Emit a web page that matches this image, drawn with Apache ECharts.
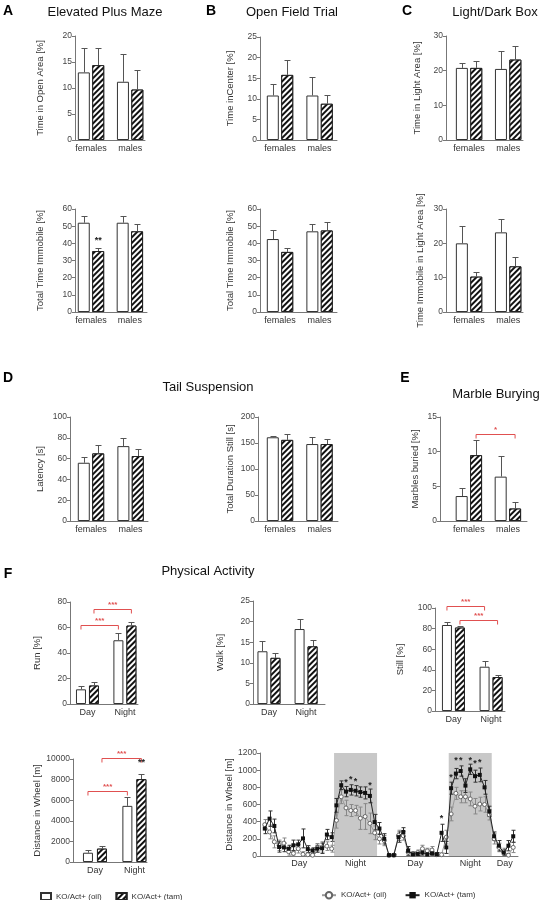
<!DOCTYPE html>
<html><head><meta charset="utf-8">
<script src="https://cdn.jsdelivr.net/npm/echarts@6/dist/echarts.min.js"></script>
<style>html,body{margin:0;padding:0;background:#fff}#c{width:545px;height:900px}</style>
</head><body><div id="c"></div>
<script>
const FONT = '"Liberation Sans", Arial, Helvetica, sans-serif';
const RED = '#e05050';

// ---------- categories ----------
const sexCats = ['females', 'males'];
const periodCats = ['Day', 'Night'];

// ---------- A: Elevated Plus Maze ----------
const epmOpenOil = [13.0, 11.2];
const epmOpenOilErr = [4.7, 5.4];
const epmOpenTam = [14.4, 9.7];
const epmOpenTamErr = [3.3, 3.8];
const epmImmOil = [52, 52];
const epmImmOilErr = [4.2, 4.0];
const epmImmTam = [35.5, 47];
const epmImmTamErr = [1.5, 4.5];

// ---------- B: Open Field Trial ----------
const ofCenterOil = [10.8, 10.8];
const ofCenterOilErr = [2.7, 4.4];
const ofCenterTam = [15.8, 8.8];
const ofCenterTamErr = [3.7, 2.2];
const ofImmOil = [42.5, 47];
const ofImmOilErr = [5.5, 4.2];
const ofImmTam = [35, 47.5];
const ofImmTamErr = [2.2, 5.2];

// ---------- C: Light/Dark Box ----------
const ldLightOil = [20.8, 20.5];
const ldLightOilErr = [1.5, 5.2];
const ldLightTam = [20.8, 23.2];
const ldLightTamErr = [1.9, 3.8];
const ldImmOil = [20, 23.2];
const ldImmOilErr = [5, 4];
const ldImmTam = [10.3, 13.3];
const ldImmTamErr = [1.4, 2.7];

// ---------- D: Tail Suspension ----------
const tsLatOil = [56, 72];
const tsLatOilErr = [5.5, 8];
const tsLatTam = [65, 62.5];
const tsLatTamErr = [8, 6.5];
const tsStillOil = [161, 148];
const tsStillOilErr = [3, 14];
const tsStillTam = [156, 148];
const tsStillTamErr = [11, 9];

// ---------- E: Marble Burying ----------
const mbOil = [3.6, 6.4];
const mbOilErr = [1.1, 3.0];
const mbTam = [9.5, 1.8];
const mbTamErr = [2.2, 1.0];

// ---------- F: Physical Activity ----------
const runOil = [11.5, 50];
const runOilErr = [3, 6];
const runTam = [14.5, 61.5];
const runTamErr = [2.5, 2.5];
const walkOil = [12.8, 18.2];
const walkOilErr = [2.4, 2.4];
const walkTam = [11.2, 14];
const walkTamErr = [1.2, 1.6];
const stillOil = [83.5, 43];
const stillOilErr = [3, 5.5];
const stillTam = [81, 33];
const stillTamErr = [2, 2];
const wheelOil = [900, 5450];
const wheelOilErr = [300, 850];
const wheelTam = [1300, 8050];
const wheelTamErr = [250, 500];

// significance marks (a/b = [category, 0 oil | 1 tam])
const mbBrackets = [{a: [0, 1], b: [1, 1], y: 12.6, label: '*'}];
const runBrackets = [{a: [0, 0], b: [1, 0], y: 62, label: '***'}, {a: [0, 1], b: [1, 1], y: 74.5, label: '***'}];
const stillBrackets = [{a: [0, 0], b: [1, 0], y: 102, label: '***'}, {a: [0, 1], b: [1, 1], y: 88, label: '***'}];
const wheelBrackets = [{a: [0, 0], b: [1, 0], y: 6900, label: '***'}, {a: [0, 1], b: [1, 1], y: 10100, label: '***'}];
const epmImmStars = [{x: 0, side: 1, y: 43, label: '**'}];
const wheelStars = [{x: 1, side: 1, y: 9850, label: '**'}];

// ---------- F: wheel running time course ----------
const wheelBins = [0,1,2,3,4,5,6,7,8,9,10,11,12,13,14,15,16,17,18,19,20,21,22,23,24,25,26,27,28,29,30,31,32,33,34,35,36,37,38,39,40,41,42,43,44,45,46,47,48,49,50,51,52];
const wheelTimeTam = [320, 435, 350, 105, 100, 85, 125, 135, 205, 80, 65, 85, 90, 250, 220,
  590, 825, 750, 770, 760, 745, 735, 700, 395,
  320, 200, 10, 10, 220, 280, 60, 20, 25, 40, 20, 30, 20, 270, 100,
  790, 960, 990, 820, 1010, 930, 945, 800, 520,
  230, 120, 40, 120, 230];
const wheelTimeTamErr = [60, 90, 80, 60, 50, 40, 60, 50, 110, 40, 30, 40, 60, 60, 50,
  80, 50, 60, 60, 60, 60, 70, 80, 90,
  70, 60, 10, 10, 60, 50, 50, 15, 20, 30, 30, 20, 20, 100, 70,
  70, 60, 60, 80, 60, 70, 80, 80, 60,
  50, 60, 30, 60, 70];
const wheelTimeOil = [365, 280, 165, 125, 150, 50, 30, 85, 20, 15, 10, 95, 105, 115, 85,
  415, 690, 560, 530, 530, 440, 460, 380, 270,
  200, 180, 8, 10, 240, 235, 45, 30, 40, 85, 60, 70, 15, 15, 220,
  490, 730, 690, 690, 665, 580, 605, 600, 480,
  200, 100, 50, 10, 100];
const wheelTimeOilErr = [60, 80, 70, 60, 60, 40, 30, 50, 30, 20, 20, 50, 60, 50, 40,
  90, 80, 90, 70, 60, 130, 150, 120, 80,
  60, 60, 10, 10, 60, 50, 40, 20, 30, 40, 30, 40, 20, 20, 80,
  80, 70, 70, 70, 80, 90, 80, 90, 60,
  60, 50, 40, 20, 60];
const wheelTimeStars = [[17, 880], [18, 915], [19, 890], [22, 850], [37, 460], [39, 940], [40, 1135], [41, 1140], [43, 1140], [44, 1095], [45, 1110]];
const phaseLabels = ['Day', 'Night', 'Day', 'Night', 'Day'];
const phaseBounds = [[-0.1, 14.5], [14.5, 23.5], [23.5, 39.5], [38.5, 47.5], [47.5, 53]];

// ---------- panel table ----------
const panels = [
  {cats: sexCats, oil: epmOpenOil, oilErr: epmOpenOilErr, tam: epmOpenTam, tamErr: epmOpenTamErr, yMax: 20, yInt: 5, name: 'Time in Open Area [%]', rect: [75, 36, 70, 104], xr: [-0.41, 1.38], nameGap: 30},
  {cats: sexCats, oil: epmImmOil, oilErr: epmImmOilErr, tam: epmImmTam, tamErr: epmImmTamErr, yMax: 60, yInt: 10, name: 'Total Time Immobile [%]', rect: [75, 209, 72, 103], xr: [-0.41, 1.44], nameGap: 30, stars: epmImmStars},
  {cats: sexCats, oil: ofCenterOil, oilErr: ofCenterOilErr, tam: ofCenterTam, tamErr: ofCenterTamErr, yMax: 25, yInt: 5, name: 'Time inCenter [%]', rect: [260, 37, 77, 103], xr: [-0.506, 1.44], nameGap: 25},
  {cats: sexCats, oil: ofImmOil, oilErr: ofImmOilErr, tam: ofImmTam, tamErr: ofImmTamErr, yMax: 60, yInt: 10, name: 'Total Time Immobile [%]', rect: [260, 209, 77, 103], xr: [-0.506, 1.44], nameGap: 25},
  {cats: sexCats, oil: ldLightOil, oilErr: ldLightOilErr, tam: ldLightTam, tamErr: ldLightTamErr, yMax: 30, yInt: 10, name: 'Time in Light Area [%]', rect: [446, 36, 77, 104], xr: [-0.59, 1.38], nameGap: 24},
  {cats: sexCats, oil: ldImmOil, oilErr: ldImmOilErr, tam: ldImmTam, tamErr: ldImmTamErr, yMax: 30, yInt: 10, name: 'Time Immobile in Light Area [%]', rect: [446, 209, 77, 103], xr: [-0.59, 1.38], nameGap: 21},
  {cats: sexCats, oil: tsLatOil, oilErr: tsLatOilErr, tam: tsLatTam, tamErr: tsLatTamErr, yMax: 100, yInt: 20, name: 'Latency [s]', rect: [70, 417, 78, 104], xr: [-0.53, 1.44], nameGap: 25},
  {cats: sexCats, oil: tsStillOil, oilErr: tsStillOilErr, tam: tsStillTam, tamErr: tsStillTamErr, yMax: 200, yInt: 50, name: 'Total Duration Still [s]', rect: [258, 417, 80, 104], xr: [-0.557, 1.47], nameGap: 23},
  {cats: sexCats, oil: mbOil, oilErr: mbOilErr, tam: mbTam, tamErr: mbTamErr, yMax: 15, yInt: 5, name: 'Marbles buried [%]', rect: [440, 417, 87, 104], xr: [-0.74, 1.49], nameGap: 20, brackets: mbBrackets},
  {cats: periodCats, oil: runOil, oilErr: runOilErr, tam: runTam, tamErr: runTamErr, yMax: 80, yInt: 20, name: 'Run [%]', rect: [70, 602, 68, 102], xr: [-0.467, 1.35], nameGap: 28, bw: 10, gapR: 0.3, brackets: runBrackets},
  {cats: periodCats, oil: walkOil, oilErr: walkOilErr, tam: walkTam, tamErr: walkTamErr, yMax: 25, yInt: 5, name: 'Walk [%]', rect: [253, 601, 72, 103], xr: [-0.43, 1.51], nameGap: 28, bw: 10, gapR: 0.3},
  {cats: periodCats, oil: stillOil, oilErr: stillOilErr, tam: stillTam, tamErr: stillTamErr, yMax: 100, yInt: 20, name: 'Still [%]', rect: [435, 608, 70, 103], xr: [-0.49, 1.37], nameGap: 30, bw: 10, gapR: 0.3, brackets: stillBrackets},
  {cats: periodCats, oil: wheelOil, oilErr: wheelOilErr, tam: wheelTam, tamErr: wheelTamErr, yMax: 10000, yInt: 2000, name: 'Distance in Wheel [m]', rect: [73, 759, 74, 103], xr: [-0.557, 1.32], nameGap: 26, bw: 10, gapR: 0.4, brackets: wheelBrackets, stars: wheelStars}
];

const AX = '#777';
const decal = {symbol: 'rect', symbolSize: 1, dashArrayX: [1, 0], dashArrayY: [2, 1.5], rotation: -Math.PI / 4, color: '#111', backgroundColor: '#fff'};

function barErrItem(off, color) {
  return function (params, api) {
    const i = api.value(0), m = api.value(1), e = api.value(2);
    const p0 = api.coord([i, m]), p1 = api.coord([i, m + e]);
    const x = Math.round(p0[0] + off) + 0.5;
    const yt = Math.round(p1[1]) + 0.5;
    return {type: 'group', children: [
      {type: 'line', shape: {x1: x, y1: p0[1], x2: x, y2: yt}, style: {stroke: color, lineWidth: 1}},
      {type: 'line', shape: {x1: x - 3, y1: yt, x2: x + 3, y2: yt}, style: {stroke: color, lineWidth: 1}}
    ]};
  };
}
function bracketItem(list, off) {
  return function (params, api) {
    const b = list[params.dataIndex];
    const y = Math.round(api.coord([0, b.y])[1]) + 0.5;
    const xa = api.coord([b.a[0], 0])[0] + (b.a[1] ? off : -off);
    const xb = api.coord([b.b[0], 0])[0] + (b.b[1] ? off : -off);
    return {type: 'group', children: [
      {type: 'polyline', shape: {points: [[xa, y + 4], [xa, y], [xb, y], [xb, y + 4]]}, style: {stroke: RED, lineWidth: 1, fill: null}},
      {type: 'text', style: {x: (xa + xb) / 2, y: y - 1, text: b.label, fill: RED, font: 'bold 8px ' + FONT, textAlign: 'center', textVerticalAlign: 'bottom'}}
    ]};
  };
}
function starItem(list, off) {
  return function (params, api) {
    const s = list[params.dataIndex];
    const p = api.coord([s.x, s.y]);
    return {type: 'text', style: {x: p[0] + (s.side ? off : -off), y: p[1] + 2, text: s.label, fill: '#222', font: 'bold 9px ' + FONT, textAlign: 'center', textVerticalAlign: 'middle'}};
  };
}

const option = {
  animation: false,
  textStyle: {fontFamily: FONT},
  grid: [], xAxis: [], yAxis: [], series: [], graphic: [], legend: []
};

function yAxisOpt(k, max, interval, name, gap) {
  return {gridIndex: k, type: 'value', min: 0, max: max, interval: interval, name: name, nameLocation: 'middle', nameGap: gap,
    nameTextStyle: {fontSize: 9.5, color: '#333', fontFamily: FONT},
    axisLine: {show: true, onZero: false, lineStyle: {color: AX}},
    axisTick: {show: true, length: 3, lineStyle: {color: AX}},
    axisLabel: {fontSize: 8.5, color: '#444', margin: 3, fontFamily: FONT, formatter: function (v) { return String(v); }},
    splitLine: {show: false}};
}

panels.forEach(function (p, k) {
  const bw = p.bw || 12, gapR = p.gapR || 0.2;
  const off = bw * (1 + gapR) / 2;
  option.grid.push({left: p.rect[0], top: p.rect[1], width: p.rect[2], height: p.rect[3]});
  option.xAxis.push({gridIndex: k, type: 'value', min: p.xr[0], max: p.xr[1], splitLine: {show: false}, axisTick: {show: false},
    axisLine: {onZero: false, lineStyle: {color: AX}},
    axisLabel: {customValues: [0, 1], formatter: function (v) { return p.cats[Math.round(v)]; }, fontSize: 9, color: '#333', margin: 4, fontFamily: FONT}});
  option.yAxis.push(yAxisOpt(k, p.yMax, p.yInt, p.name, p.nameGap));
  option.series.push({type: 'bar', name: 'KO/Act+ (oil)', xAxisIndex: k, yAxisIndex: k, barWidth: bw, barGap: (gapR * 100) + '%',
    data: p.oil.map(function (v, i) { return [i, v]; }), itemStyle: {color: '#fff', borderColor: '#333', borderWidth: 1}, silent: true});
  option.series.push({type: 'bar', name: 'KO/Act+ (tam)', xAxisIndex: k, yAxisIndex: k, barWidth: bw, barGap: (gapR * 100) + '%',
    data: p.tam.map(function (v, i) { return [i, v]; }), itemStyle: {color: '#fff', borderColor: '#222', borderWidth: 1, decal: decal}, silent: true});
  option.series.push({type: 'custom', xAxisIndex: k, yAxisIndex: k, silent: true, z: 3,
    data: p.oil.map(function (v, i) { return [i, v, p.oilErr[i]]; }), renderItem: barErrItem(-off, '#555')});
  option.series.push({type: 'custom', xAxisIndex: k, yAxisIndex: k, silent: true, z: 3,
    data: p.tam.map(function (v, i) { return [i, v, p.tamErr[i]]; }), renderItem: barErrItem(off, '#555')});
  if (p.brackets) {
    option.series.push({type: 'custom', xAxisIndex: k, yAxisIndex: k, silent: true, clip: false, z: 4,
      data: p.brackets.map(function (b) { return [b.a[0], b.y]; }), renderItem: bracketItem(p.brackets, off)});
  }
  if (p.stars) {
    option.series.push({type: 'custom', xAxisIndex: k, yAxisIndex: k, silent: true, clip: false, z: 4,
      data: p.stars.map(function (s) { return [s.x, s.y]; }), renderItem: starItem(p.stars, off)});
  }
});

// time-course panel
const T = panels.length;
option.grid.push({left: 260, top: 753, width: 258, height: 103});
option.xAxis.push({gridIndex: T, type: 'value', min: -1, max: 53, splitLine: {show: false}, axisTick: {show: false}, axisLabel: {show: false},
  axisLine: {onZero: false, lineStyle: {color: AX}}});
option.yAxis.push(yAxisOpt(T, 1200, 200, 'Distance in Wheel [m]', 25));

function tsErrItem(color) {
  return function (params, api) {
    const x = api.value(0), m = api.value(1), e = api.value(2);
    const pt = api.coord([x, m + e]), pb = api.coord([x, Math.max(0, m - e)]);
    const xx = Math.round(pt[0]) + 0.5;
    return {type: 'group', children: [
      {type: 'line', shape: {x1: xx, y1: pt[1], x2: xx, y2: pb[1]}, style: {stroke: color, lineWidth: 1}},
      {type: 'line', shape: {x1: xx - 2, y1: pt[1], x2: xx + 2, y2: pt[1]}, style: {stroke: color, lineWidth: 1}},
      {type: 'line', shape: {x1: xx - 2, y1: pb[1], x2: xx + 2, y2: pb[1]}, style: {stroke: color, lineWidth: 1}}
    ]};
  };
}

const phaseAreas = phaseLabels.map(function (lab, i) {
  const night = lab === 'Night';
  return [{xAxis: phaseBounds[i][0], name: lab, itemStyle: {color: night ? '#c8c8c8' : 'rgba(0,0,0,0)'}}, {xAxis: phaseBounds[i][1]}];
});

option.series.push({type: 'custom', xAxisIndex: T, yAxisIndex: T, silent: true, z: 2,
  data: wheelBins.map(function (x, i) { return [x, wheelTimeOil[i], wheelTimeOilErr[i]]; }), renderItem: tsErrItem('#888'),
  markArea: {silent: true, z: 1, label: {show: true, position: 'bottom', distance: 3, fontSize: 9, color: '#333', fontFamily: FONT}, data: phaseAreas}});
option.series.push({type: 'custom', xAxisIndex: T, yAxisIndex: T, silent: true, z: 2,
  data: wheelBins.map(function (x, i) { return [x, wheelTimeTam[i], wheelTimeTamErr[i]]; }), renderItem: tsErrItem('#333')});
option.series.push({type: 'line', name: 'oilLine', xAxisIndex: T, yAxisIndex: T, silent: true, z: 3,
  data: wheelBins.map(function (x, i) { return [x, wheelTimeOil[i]]; }),
  symbol: 'circle', symbolSize: 4, showAllSymbol: true,
  lineStyle: {color: '#999', width: 1}, itemStyle: {color: '#fff', borderColor: '#666', borderWidth: 1}});
option.series.push({type: 'line', name: 'tamLine', xAxisIndex: T, yAxisIndex: T, silent: true, z: 4,
  data: wheelBins.map(function (x, i) { return [x, wheelTimeTam[i]]; }),
  symbol: 'rect', symbolSize: 4, showAllSymbol: true,
  lineStyle: {color: '#222', width: 1}, itemStyle: {color: '#111', borderColor: '#111', borderWidth: 0}});
option.series.push({type: 'custom', xAxisIndex: T, yAxisIndex: T, silent: true, clip: false, z: 5,
  data: wheelTimeStars,
  renderItem: function (params, api) {
    const p = api.coord([api.value(0), api.value(1)]);
    return {type: 'text', style: {x: p[0], y: p[1] + 2, text: '*', fill: '#222', font: 'bold 9px ' + FONT, textAlign: 'center', textVerticalAlign: 'middle'}};
  }});

// legends
option.legend.push({data: ['KO/Act+ (oil)', 'KO/Act+ (tam)'], left: 35, top: 887, itemWidth: 10, itemHeight: 7, itemGap: 14, icon: 'rect',
  textStyle: {fontSize: 8, color: '#333', fontFamily: FONT}, selectedMode: false});
option.legend.push({data: ['oilLine', 'tamLine'], left: 316, top: 886, itemWidth: 14, itemHeight: 8, itemGap: 18,
  formatter: function (n) { return n === 'oilLine' ? 'KO/Act+ (oil)' : 'KO/Act+ (tam)'; },
  textStyle: {fontSize: 8, color: '#333', fontFamily: FONT}, selectedMode: false});

// titles & panel letters
const titles = [
  {t: 'Elevated Plus Maze', x: 105, y: 12}, {t: 'Open Field Trial', x: 292, y: 12}, {t: 'Light/Dark Box', x: 495, y: 12},
  {t: 'Tail Suspension', x: 208, y: 387}, {t: 'Marble Burying', x: 496, y: 394}, {t: 'Physical Activity', x: 208, y: 571}
];
const letters = [
  {t: 'A', x: 8, y: 11}, {t: 'B', x: 211, y: 11}, {t: 'C', x: 407, y: 11},
  {t: 'D', x: 8, y: 378}, {t: 'E', x: 405, y: 378}, {t: 'F', x: 8, y: 574}
];
titles.forEach(function (o) {
  option.graphic.push({type: 'text', x: o.x, y: o.y, silent: true,
    style: {text: o.t, font: '13px ' + FONT, fill: '#111', textAlign: 'center', textVerticalAlign: 'middle', align: 'center', verticalAlign: 'middle'}});
});
letters.forEach(function (o) {
  option.graphic.push({type: 'text', x: o.x, y: o.y, silent: true,
    style: {text: o.t, font: 'bold 14px ' + FONT, fill: '#000', textAlign: 'center', textVerticalAlign: 'middle', align: 'center', verticalAlign: 'middle'}});
});

const chart = echarts.init(document.getElementById('c'), null, {renderer: 'canvas'});
chart.setOption(option);
</script></body></html>
